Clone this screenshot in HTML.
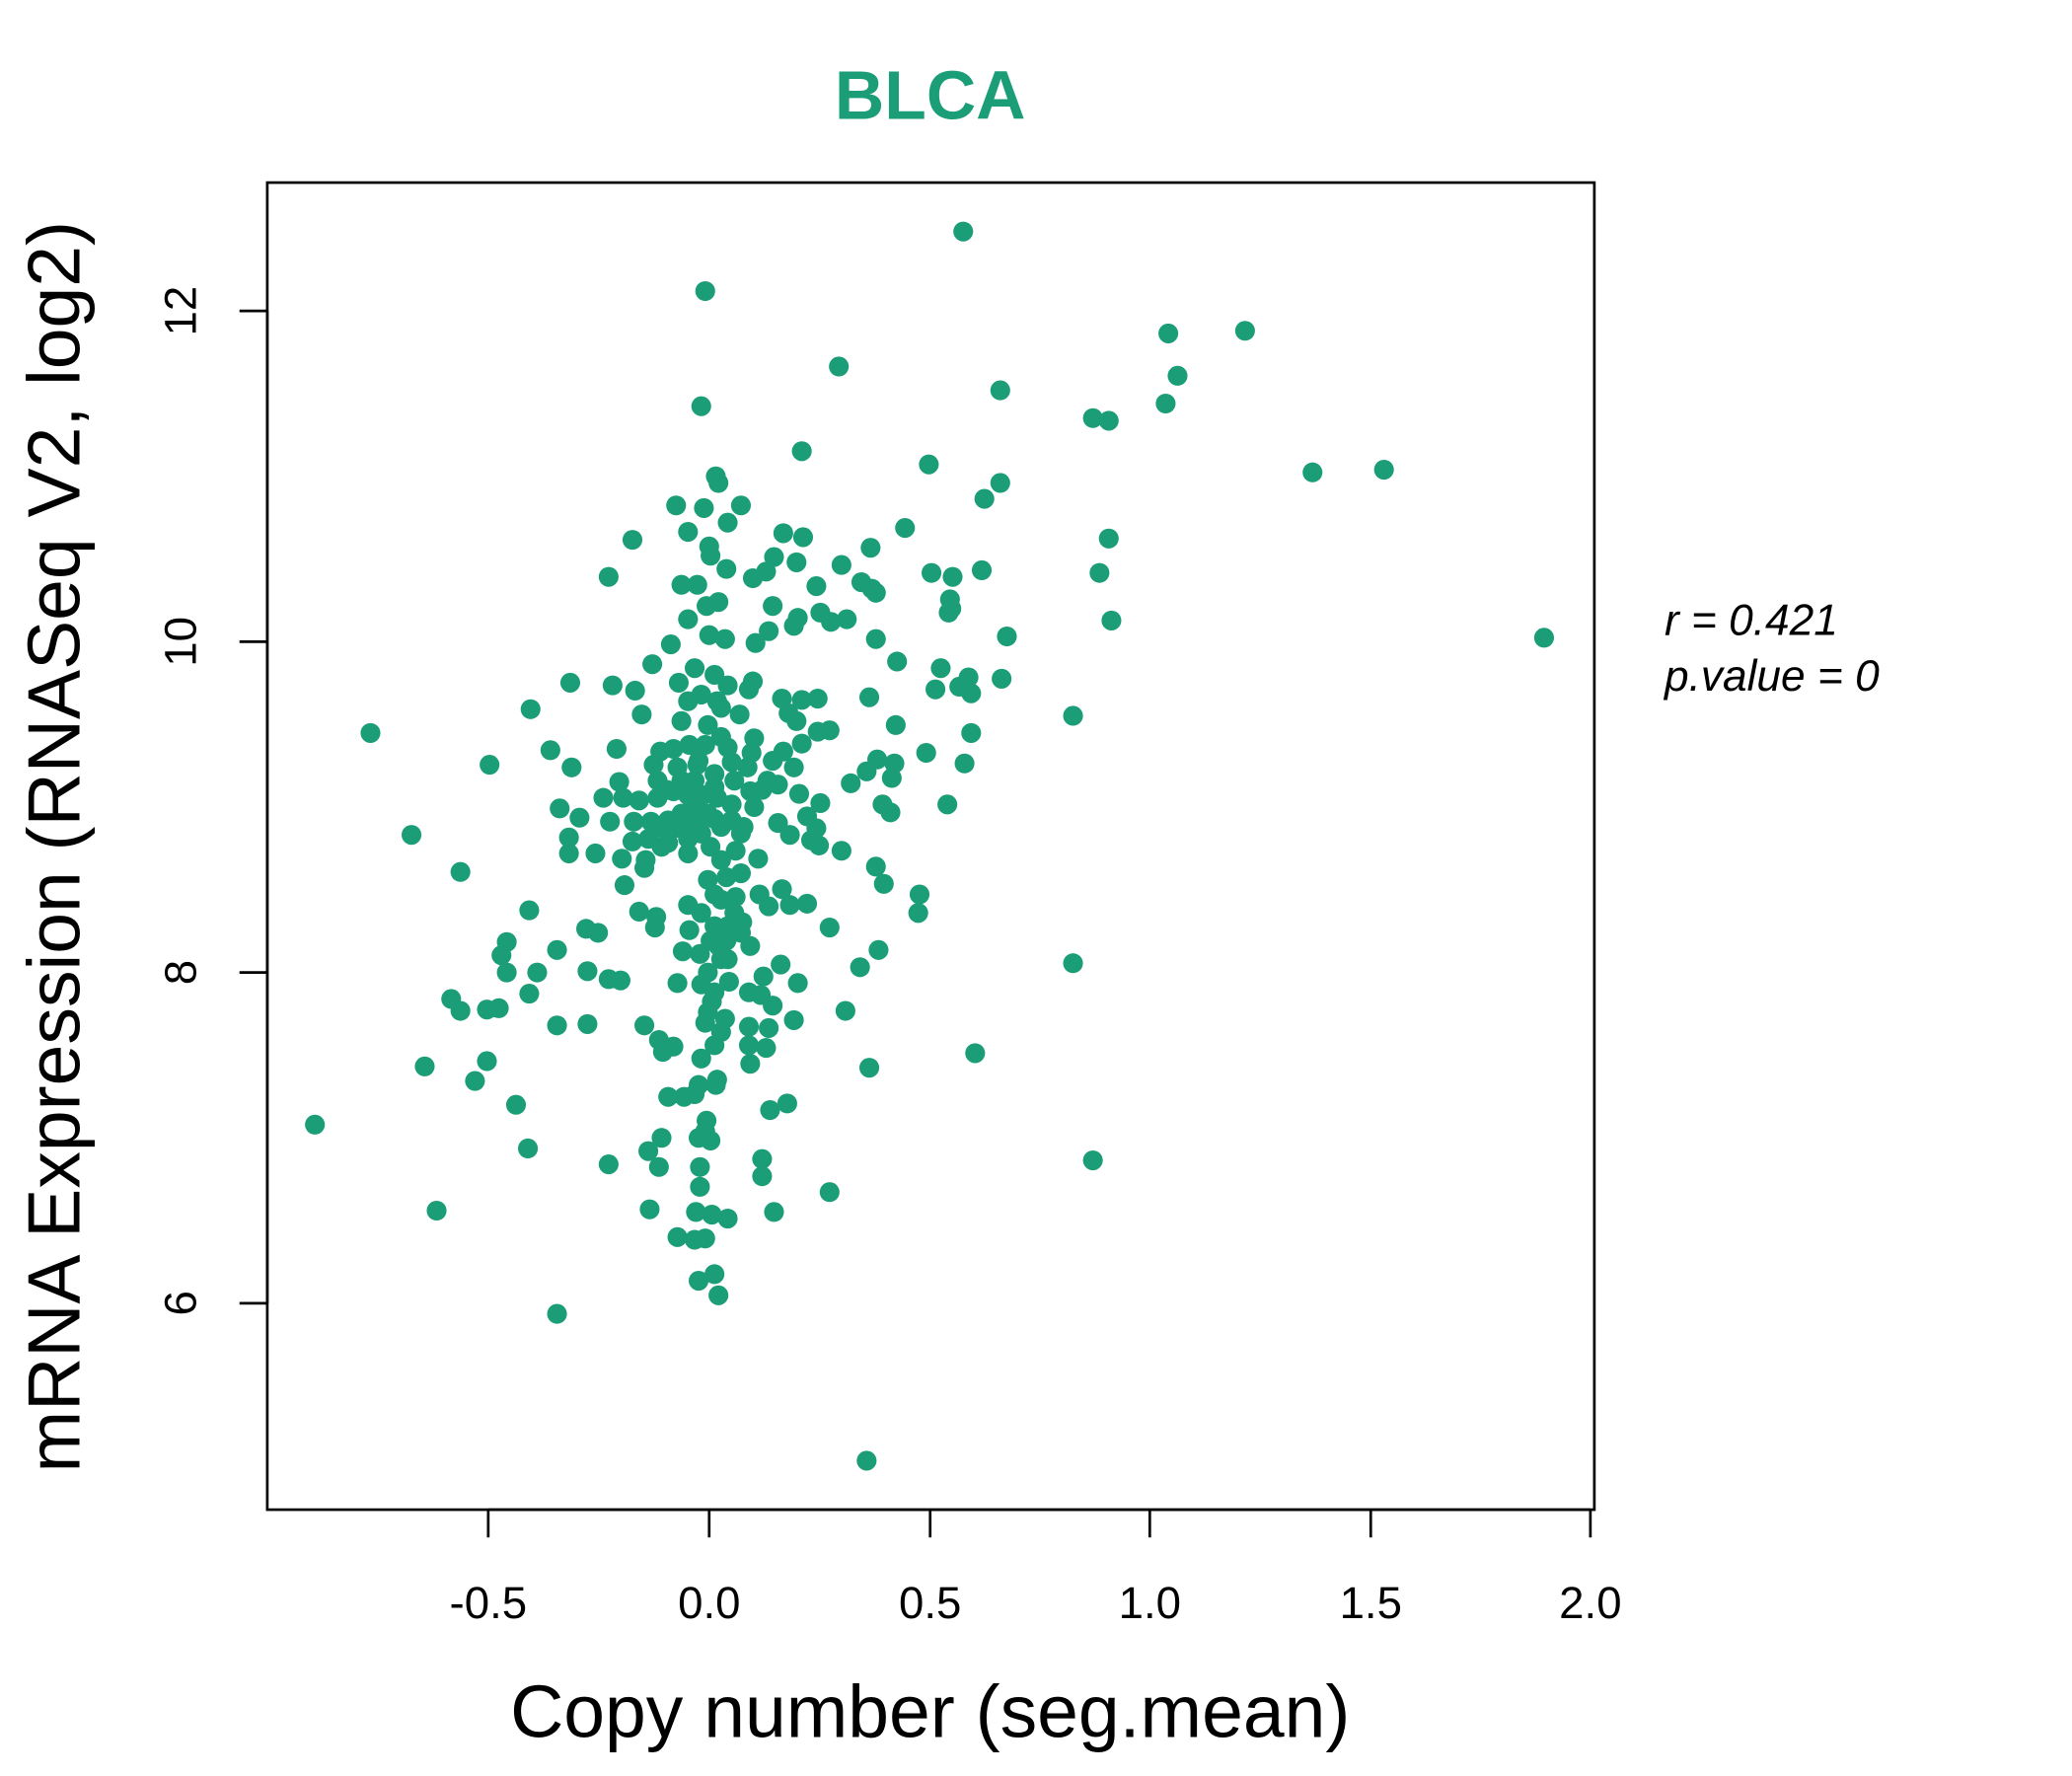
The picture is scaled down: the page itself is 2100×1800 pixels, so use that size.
<!DOCTYPE html>
<html><head><meta charset="utf-8"><style>html,body{margin:0;padding:0;background:#fff}svg{display:block}</style></head>
<body>
<svg width="2100" height="1800" viewBox="0 0 1566 1342.3" xmlns="http://www.w3.org/2000/svg" font-family="Liberation Sans, sans-serif">
<rect width="1570" height="1345" fill="#fff"/>
<text x="703" y="90" text-anchor="middle" font-size="52" font-weight="bold" fill="#1b9e77">BLCA</text>
<rect x="202" y="138" width="1003" height="1003" fill="none" stroke="#000" stroke-width="2"/>
<g stroke="#000" stroke-width="2">
<line x1="369" y1="1141" x2="1202" y2="1141"/>
<line x1="369" y1="1141" x2="369" y2="1162"/><line x1="536" y1="1141" x2="536" y2="1162"/><line x1="703" y1="1141" x2="703" y2="1162"/><line x1="869" y1="1141" x2="869" y2="1162"/><line x1="1036" y1="1141" x2="1036" y2="1162"/><line x1="1202" y1="1141" x2="1202" y2="1162"/>
<line x1="202" y1="235" x2="202" y2="985"/>
<line x1="181" y1="235" x2="202" y2="235"/><line x1="181" y1="485" x2="202" y2="485"/><line x1="181" y1="735" x2="202" y2="735"/><line x1="181" y1="985" x2="202" y2="985"/>
</g>
<g font-size="34" text-anchor="middle" fill="#000">
<text x="369" y="1223">-0.5</text><text x="536" y="1223">0.0</text><text x="703" y="1223">0.5</text><text x="869" y="1223">1.0</text><text x="1036" y="1223">1.5</text><text x="1202" y="1223">2.0</text>
<text transform="translate(148,235) rotate(-90)">12</text>
<text transform="translate(148,485) rotate(-90)">10</text>
<text transform="translate(148,735) rotate(-90)">8</text>
<text transform="translate(148,985) rotate(-90)">6</text>
</g>
<text x="703" y="1313" text-anchor="middle" font-size="56">Copy number (seg.mean)</text>
<text transform="translate(60,640) rotate(-90)" text-anchor="middle" font-size="56">mRNA Expression (RNASeq V2, log2)</text>
<g font-size="33" font-style="italic">
<text x="1258" y="480">r = 0.421</text>
<text x="1258" y="522">p.value = 0</text>
</g>
<path fill="none" stroke="#1b9e77" stroke-width="15" stroke-linecap="round" d="M728 175h0M533 220h0M634 277h0M530 307h0M756 295h0M883 252h0M941 250h0M890 284h0M881 305h0M826 316h0M838 318h0M606 341h0M702 351h0M541 360h0M543 365h0M992 357h0M1046 355h0M756 365h0M744 377h0M511 382h0M532 384h0M560 382h0M550 395h0M478 408h0M520 402h0M592 403h0M607 406h0M684 399h0M838 407h0M658 414h0M536 413h0M537 420h0M585 421h0M602 425h0M549 430h0M460 436h0M515 442h0M527 442h0M569 437h0M579 432h0M636 427h0M742 431h0M704 433h0M720 436h0M831 433h0M617 443h0M659 445h0M662 448h0M651 440h0M543 455h0M534 458h0M584 458h0M718 453h0M719 460h0M717 463h0M620 463h0M640 468h0M628 470h0M600 473h0M603 467h0M520 468h0M840 469h0M581 477h0M536 480h0M548 483h0M571 486h0M662 483h0M761 481h0M1167 482h0M507 487h0M493 502h0M678 500h0M711 505h0M732 512h0M757 513h0M707 521h0M734 524h0M725 519h0M606 529h0M591 528h0M618 528h0M569 515h0M566 521h0M431 516h0M463 518h0M480 522h0M513 516h0M550 518h0M657 527h0M542 530h0M515 545h0M401 536h0M602 545h0M485 540h0M811 541h0M677 548h0M734 554h0M596 539h0M280 554h0M618 553h0M627 552h0M559 540h0M416 567h0M370 578h0M432 580h0M466 566h0M494 578h0M499 568h0M509 566h0M521 563h0M533 563h0M545 557h0M570 558h0M553 576h0M568 569h0M584 575h0M592 568h0M606 562h0M700 569h0M729 577h0M663 574h0M655 583h0M676 577h0M674 588h0M643 592h0M497 590h0M468 591h0M504 597h0M456 603h0M471 603h0M483 605h0M497 603h0M509 598h0M520 601h0M531 601h0M542 603h0M553 608h0M567 598h0M576 597h0M588 593h0M604 600h0M620 607h0M667 608h0M673 614h0M716 608h0M423 611h0M438 618h0M461 621h0M479 621h0M492 621h0M501 626h0M514 626h0M527 622h0M540 619h0M553 620h0M562 625h0M588 622h0M597 631h0M610 617h0M617 626h0M613 635h0M619 639h0M636 643h0M311 631h0M430 633h0M430 645h0M450 645h0M478 636h0M490 634h0M505 637h0M520 634h0M537 640h0M556 643h0M573 649h0M470 649h0M488 650h0M487 656h0M348 659h0M472 669h0M549 663h0M662 655h0M668 668h0M591 672h0M574 676h0M556 678h0M540 676h0M520 684h0M483 689h0M496 693h0M400 688h0M695 676h0M694 690h0M443 702h0M452 705h0M495 701h0M521 703h0M550 700h0M561 697h0M581 685h0M597 684h0M610 683h0M627 701h0M537 711h0M549 711h0M567 715h0M383 712h0M379 722h0M421 718h0M516 719h0M529 721h0M543 715h0M664 718h0M811 728h0M383 735h0M444 734h0M406 735h0M460 740h0M469 741h0M577 738h0M650 731h0M590 729h0M512 743h0M530 744h0M551 742h0M566 750h0M603 743h0M400 751h0M341 755h0M348 764h0M368 763h0M377 762h0M538 757h0M575 752h0M584 760h0M639 764h0M600 771h0M421 775h0M487 775h0M444 774h0M533 773h0M548 770h0M566 776h0M581 777h0M498 786h0M509 791h0M540 790h0M501 795h0M566 790h0M579 792h0M737 796h0M657 807h0M321 806h0M368 802h0M567 804h0M359 817h0M528 820h0M541 820h0M525 827h0M542 816h0M505 829h0M517 829h0M390 835h0M595 834h0M582 839h0M238 850h0M534 847h0M533 855h0M500 860h0M528 860h0M537 862h0M490 870h0M399 868h0M576 876h0M826 877h0M460 880h0M498 882h0M529 882h0M576 889h0M627 901h0M529 897h0M491 914h0M330 915h0M526 916h0M538 918h0M585 916h0M550 921h0M512 935h0M525 937h0M533 936h0M528 968h0M540 963h0M543 979h0M421 993h0M655 1104h0M525 505h0M540 510h0M530 525h0M545 535h0M520 530h0M535 548h0M528 575h0M540 585h0M515 590h0M525 610h0M535 615h0M545 625h0M515 615h0M530 630h0M520 645h0M545 650h0M560 660h0M535 665h0M545 680h0M530 690h0M555 690h0M560 705h0M540 700h0M545 725h0M535 735h0M550 725h0M540 750h0M535 765h0M545 780h0M530 800h0M525 590h0M540 595h0M555 590h0M550 565h0M565 580h0M580 590h0M600 580h0M505 620h0M512 580h0M527 578h0M500 640h0M560 630h0M570 610h0"/>
</svg>
</body></html>
